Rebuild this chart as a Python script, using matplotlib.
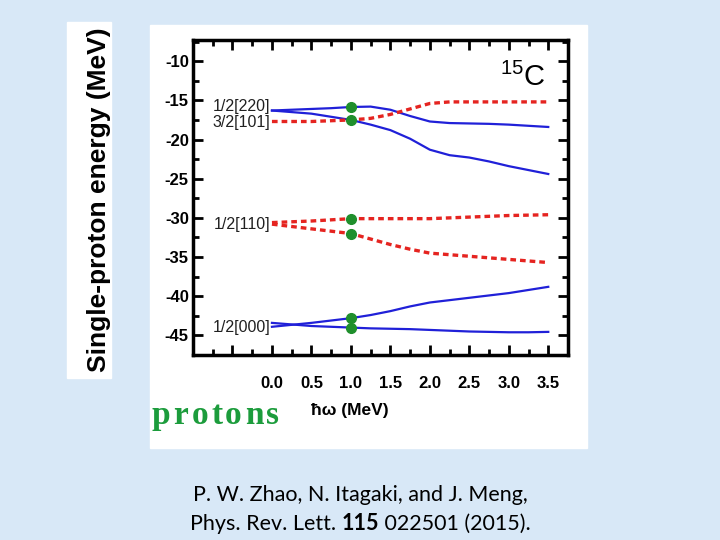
#!/usr/bin/env python3
import numpy as np
import matplotlib
matplotlib.use('Agg')
from matplotlib import pyplot as plt
from matplotlib.patches import Rectangle
from matplotlib.ticker import MultipleLocator, FixedLocator, FixedFormatter

plt.rcParams['font.family'] = ['Liberation Sans', 'DejaVu Sans']
plt.rcParams['mathtext.fontset'] = 'custom'
plt.rcParams['mathtext.rm'] = 'Liberation Sans'
plt.rcParams['axes.unicode_minus'] = False

W, H = 720, 540

### values (hbar*omega in MeV, energies in MeV)
hw = [0.0, 0.25, 0.5, 0.75, 1.0, 1.25, 1.5, 1.75, 2.0, 2.25, 2.5, 2.75, 3.0, 3.25, 3.5]

# solid blue levels
e_220_a = [-16.3, -16.2, -16.1, -16.0, -15.85, -15.8, -16.2, -17.0, -17.7, -17.9, -17.95, -18.0, -18.1, -18.25, -18.4]
e_220_b = [-16.3, -16.5, -16.7, -17.1, -17.5, -18.1, -18.8, -19.9, -21.3, -22.0, -22.3, -22.8, -23.4, -23.9, -24.4]
e_000_a = [-43.9, -43.65, -43.4, -43.1, -42.8, -42.4, -41.9, -41.3, -40.8, -40.5, -40.2, -39.9, -39.6, -39.2, -38.8]
e_000_b = [-43.4, -43.6, -43.8, -43.9, -44.0, -44.1, -44.15, -44.2, -44.3, -44.4, -44.5, -44.55, -44.6, -44.6, -44.55]

# dotted red levels
e_101 = [-17.7, -17.7, -17.7, -17.6, -17.5, -17.3, -16.8, -16.1, -15.4, -15.2, -15.2, -15.2, -15.2, -15.2, -15.2]
e_110_a = [-30.6, -30.5, -30.4, -30.25, -30.1, -30.1, -30.1, -30.1, -30.1, -30.0, -29.9, -29.8, -29.7, -29.65, -29.6]
e_110_b = [-30.8, -31.1, -31.4, -31.7, -32.0, -32.7, -33.4, -34.0, -34.5, -34.7, -34.9, -35.1, -35.3, -35.5, -35.7]

# green markers at hw = 1 MeV
dot_hw = 1.0
dot_e = [-15.85, -17.5, -30.1, -32.0, -42.8, -44.0]

# level names and where they sit
lev_names = ['1/2[220]', '3/2[101]', '1/2[110]', '1/2[000]']
lev_e = [-15.8, -17.85, -30.8, -44.0]

BLUE = '#2020d8'
RED = '#e52420'
GREEN = '#1f8f2c'


def fx(px):
    return px / W


def fy(py):
    return 1.0 - py / H


def main():
    fig = plt.figure(figsize=(7.2, 5.4), dpi=100)
    fig.patch.set_facecolor('#d8e8f7')

    # white panels of the slide
    fig.patches.append(Rectangle((fx(150), fy(448)), fx(587) - fx(150), fy(25) - fy(448),
                                 transform=fig.transFigure, color='white', zorder=-5))
    fig.patches.append(Rectangle((fx(67), fy(378)), fx(111) - fx(67), fy(22) - fy(378),
                                 transform=fig.transFigure, color='white', zorder=-5))

    ax = fig.add_axes([fx(193), fy(355), fx(568) - fx(193), fy(40) - fy(355)])
    ax.set_zorder(2)
    ax.set_facecolor('white')

    for e in (e_220_a, e_220_b, e_000_a, e_000_b):
        ax.plot(hw, e, color=BLUE, linewidth=1.6, zorder=2)
    for e in (e_101, e_110_a, e_110_b):
        ax.plot(hw, e, color=RED, linewidth=2.4, dashes=(1.7, 1.2), zorder=2)
    ax.plot([dot_hw] * len(dot_e), dot_e, linestyle='none', marker='o',
            markersize=7, color=GREEN, zorder=3)

    for name, e in zip(lev_names, lev_e):
        ax.text(-0.02, e, name, ha='right', va='center', fontsize=11.5, color='#202020')

    ax.text(3.47, -13.2, r'$\mathrm{^{15}C}$', ha='right', va='baseline', fontsize=21)

    ax.set_xlim(-1.0, 3.75)
    ax.set_ylim(-47.5, -7.3)

    xmaj = list(np.arange(-0.5, 3.51, 0.5))
    ax.xaxis.set_major_locator(FixedLocator(xmaj))
    ax.xaxis.set_major_formatter(FixedFormatter(['' if v < 0 else f'{v:.1f}' for v in xmaj]))
    ax.xaxis.set_minor_locator(MultipleLocator(0.25))
    ax.yaxis.set_major_locator(FixedLocator(np.arange(-45, -9, 5)))
    ax.yaxis.set_minor_locator(MultipleLocator(2.5))

    ax.tick_params(which='both', direction='in', top=True, right=True, width=2)
    ax.tick_params(which='major', length=7)
    ax.tick_params(which='minor', length=4)
    ax.tick_params(axis='x', which='major', pad=15, labelsize=12)
    ax.tick_params(axis='y', which='major', pad=3, labelsize=12)
    for lbl in ax.get_xticklabels() + ax.get_yticklabels():
        lbl.set_fontweight('bold')
    for sp in ax.spines.values():
        sp.set_linewidth(2.5)

    fig.text(fx(350), fy(411), '\u0127\u03c9 (MeV)', ha='center', va='center',
             fontsize=12.5, fontweight='bold')
    fig.text(fx(99), fy(200), 'Single-proton energy (MeV)', rotation=90,
             ha='center', va='center', fontsize=19, fontweight='bold')

    # letter-spaced "protons"
    renderer = fig.canvas.get_renderer()
    x0 = fx(152)
    for ch in 'protons':
        t = fig.text(x0, fy(424), ch, ha='left', va='baseline', fontsize=24,
                     fontweight='bold', color='#1c9c3c', family='Liberation Serif')
        bb = t.get_window_extent(renderer)
        x0 += (bb.width + 3.0) / W

    # citation
    fig.text(fx(360), fy(501), 'P. W. Zhao, N. Itagaki, and J. Meng,', ha='center',
             va='baseline', fontsize=15.5, family='Lato')
    parts = [('Phys. Rev. Lett. ', 'normal'), ('115', 'bold'), (' 022501 (2015).', 'normal')]
    texts = [fig.text(0, fy(530), s, ha='left', va='baseline', fontsize=15.5,
                      family='Lato', fontweight=w) for s, w in parts]
    widths = [t.get_window_extent(renderer).width for t in texts]
    xs = 360 - sum(widths) / 2.0
    for t, w in zip(texts, widths):
        t.set_x(fx(xs))
        xs += w

    fig.savefig('out.png', dpi=100, facecolor=fig.get_facecolor())


if __name__ == '__main__':
    main()
